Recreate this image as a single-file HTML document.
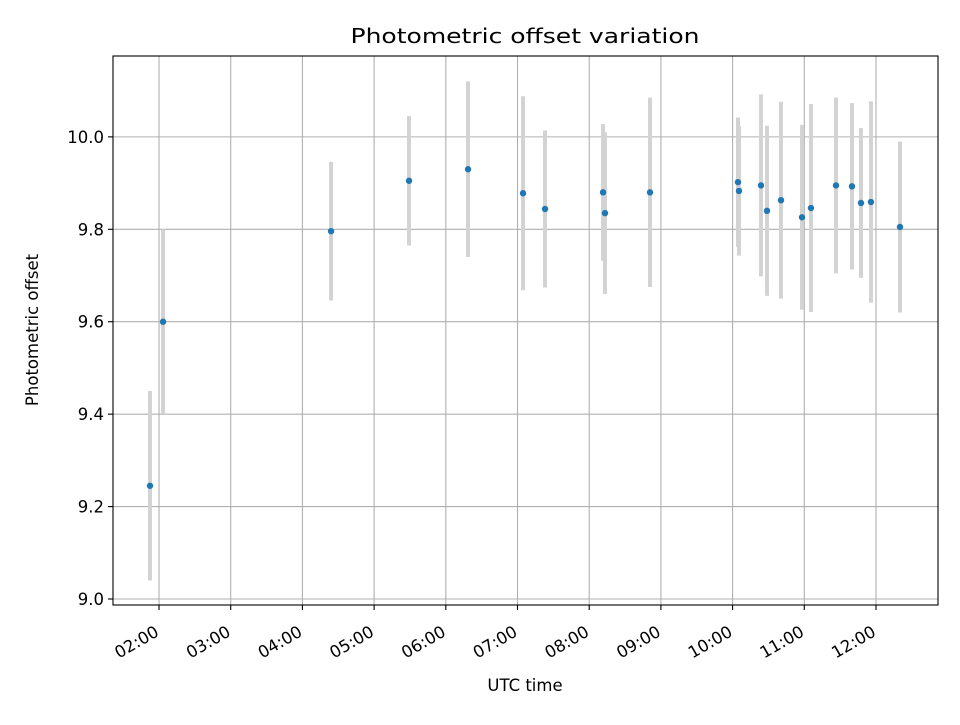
<!DOCTYPE html>
<html><head><meta charset="utf-8"><style>
body{margin:0;background:#fff}
svg text{font-family:"DejaVu Sans","Liberation Sans",sans-serif;fill:#000}
</style></head><body>
<svg id="chart" width="960" height="720" xmlns="http://www.w3.org/2000/svg">
<rect width="960" height="720" fill="#fff"/>
<text x="525" y="43" font-size="20" text-anchor="middle" textLength="349" lengthAdjust="spacingAndGlyphs">Photometric offset variation</text>
<g id="grid"></g>
<g id="errs"></g>
<g id="pts"></g>
<rect x="113" y="56" width="825" height="549" fill="none" stroke="#000" stroke-width="1.1"/>
<g id="ticks"></g>
<text x="525" y="691" font-size="16.5" text-anchor="middle">UTC time</text>
<text x="38" y="330" font-size="16.5" text-anchor="middle" transform="rotate(-90 38 330)">Photometric offset</text>
</svg>
<script>
const hours = [1.874,2.056,4.399,5.487,6.310,7.077,7.384,8.193,8.220,8.848,10.075,10.089,10.396,10.480,10.675,10.968,11.093,11.442,11.665,11.791,11.930,12.335];
const offsets = [9.245,9.600,9.796,9.905,9.930,9.878,9.844,9.880,9.835,9.880,9.902,9.883,9.895,9.840,9.863,9.826,9.846,9.895,9.893,9.857,9.859,9.805];
const errors = [0.205,0.200,0.150,0.140,0.190,0.210,0.170,0.148,0.175,0.205,0.140,0.140,0.197,0.184,0.213,0.200,0.225,0.190,0.180,0.162,0.218,0.185];
const xTicks = [2,3,4,5,6,7,8,9,10,11,12];
const xTickLabels = ["02:00","03:00","04:00","05:00","06:00","07:00","08:00","09:00","10:00","11:00","12:00"];
const yTicks = [9.0,9.2,9.4,9.6,9.8,10.0];
const yTickLabels = ["9.0","9.2","9.4","9.6","9.8","10.0"];
const L=113,R=938,T=56,B=605, X0=1.358,X1=12.865,Y0=8.987,Y1=10.175;
const xs=h=>L+(h-X0)/(X1-X0)*(R-L);
const ys=v=>B-(v-Y0)/(Y1-Y0)*(B-T);
const NS="http://www.w3.org/2000/svg";
function mk(tag,attrs,parent){const e=document.createElementNS(NS,tag);for(const k in attrs)e.setAttribute(k,attrs[k]);parent.appendChild(e);return e;}
const grid=document.getElementById('grid'),ticks=document.getElementById('ticks'),errs=document.getElementById('errs'),pts=document.getElementById('pts');
xTicks.forEach((t,i)=>{const x=xs(t);
 let g=mk('line',{x1:x,x2:x,y1:T,y2:B,stroke:'#b0b0b0','stroke-width':1.1},grid);
 
 
 let tk=mk('line',{x1:x,x2:x,y1:B,y2:B+5,stroke:'#000','stroke-width':1.1},ticks);
 
 
 let tx=mk('text',{x:x+1,y:B+30,'font-size':16.5,'text-anchor':'end',transform:`rotate(-30 ${x+1} ${B+30})`},ticks);
 tx.textContent=xTickLabels[i];
 
 
});
yTicks.forEach((t,i)=>{const y=ys(t);
 let g=mk('line',{x1:L,x2:R,y1:y,y2:y,stroke:'#b0b0b0','stroke-width':1.1},grid);
 
 
 let tk=mk('line',{x1:L-5,x2:L,y1:y,y2:y,stroke:'#000','stroke-width':1.1},ticks);
 
 
 let tx=mk('text',{x:L-9,y:y+6,'font-size':16.5,'text-anchor':'end'},ticks);
 tx.textContent=yTickLabels[i];
 
 
});
hours.forEach((h,i)=>{const x=xs(h);
 let e=mk('line',{x1:x,x2:x,y1:ys(offsets[i]+errors[i]),y2:ys(offsets[i]-errors[i]),stroke:'#d3d3d3','stroke-width':4},errs);
 
 
 let c=mk('circle',{cx:x,cy:ys(offsets[i]),r:3.2,fill:'#1f77b4'},pts);
 
 
});
</script>
</body></html>
